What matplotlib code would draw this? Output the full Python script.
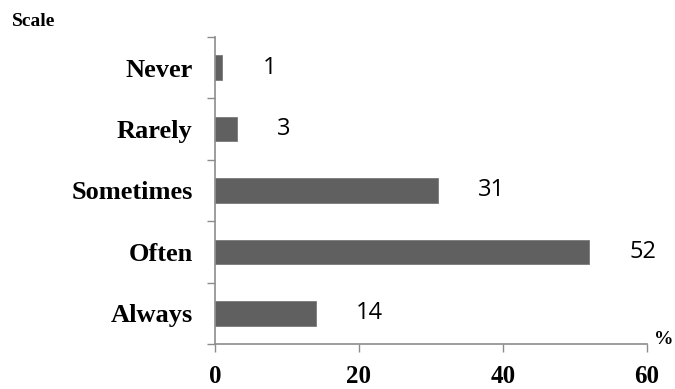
import numpy as np
import matplotlib.pyplot as plt

# survey answers, drawn top to bottom
categorias = ["Never", "Rarely", "Sometimes", "Often", "Always"]
porcentajes = [1, 3, 31, 52, 14]
ticks_x = [0, 20, 40, 60]

gris_eje = "#8c8c8c"
serif = ["Liberation Serif", "DejaVu Serif"]

fig = plt.figure(figsize=(6.75, 3.89), dpi=100)
ax = fig.add_axes([0.3185, 0.1157, 0.958 - 0.3185, 0.905 - 0.1157])

pos = np.arange(len(categorias))
ax.barh(pos, porcentajes, height=0.4, color="#606060", edgecolor="#7a7a7a", linewidth=0.6)
ax.set_ylim(len(categorias) - 0.5, -0.5)
ax.set_xlim(0, 60)

# valores a la derecha de cada barra
for y, v in zip(pos, porcentajes):
    ax.annotate(str(v), (v, y), xytext=(29, 0), textcoords="offset points",
                ha="left", va="center", fontsize=17, family="Open Sans")

# etiquetas de categoría en ticks menores, marcas en los límites
ax.set_yticks(np.arange(len(categorias) + 1) - 0.5)
ax.set_yticklabels([])
ax.set_yticks(pos, minor=True)
ax.set_yticklabels(categorias, minor=True, family=serif, fontweight="bold", fontsize=19)
ax.tick_params(axis="y", which="minor", length=0, pad=16)
ax.tick_params(axis="y", which="major", length=6, color=gris_eje, width=1)

ax.set_xticks(ticks_x)
ax.set_xticklabels([str(t) for t in ticks_x], family=serif, fontweight="bold", fontsize=18)
ax.tick_params(axis="x", length=6, color=gris_eje, width=1, pad=9)

for lado in ["top", "right"]:
    ax.spines[lado].set_visible(False)
for lado in ["left", "bottom"]:
    ax.spines[lado].set_color(gris_eje)
    ax.spines[lado].set_linewidth(1.2)

fig.text(12 / 675, 1 - 21 / 389, "Scale", family=serif, fontweight="bold", fontsize=14,
         ha="left", va="center")
fig.text(673 / 675, 1 - 340 / 389, "%", family=serif, fontweight="bold", fontsize=14,
         ha="right", va="center")

fig.savefig("out.png", dpi=100)
